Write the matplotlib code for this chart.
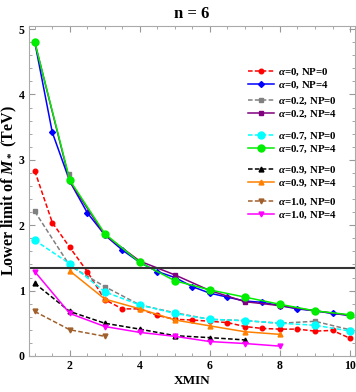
import matplotlib
matplotlib.use("Agg")
import matplotlib.pyplot as plt
from matplotlib.legend import Legend
from matplotlib.ticker import MultipleLocator

plt.rcParams['font.family'] = ['Liberation Serif', 'DejaVu Serif']
plt.rcParams['mathtext.fontset'] = 'custom'
plt.rcParams['mathtext.it'] = 'Liberation Serif:italic:bold'
plt.rcParams['mathtext.rm'] = 'Liberation Serif:bold'

# ---- data ----
x_half = [1, 1.5, 2, 2.5, 3, 3.5, 4, 4.5, 5, 5.5, 6, 6.5, 7, 7.5, 8, 8.5, 9, 9.5, 10]
x_int = [1, 2, 3, 4, 5, 6, 7, 8, 9, 10]

a0_np0 = [2.83, 2.04, 1.66, 1.29, 0.86, 0.72, 0.72, 0.62, 0.56, 0.55, 0.53, 0.51,
          0.45, 0.42, 0.41, 0.41, 0.38, 0.39, 0.27]
a0_np4 = [4.80, 3.42, 2.67, 2.19, 1.85, 1.62, 1.43, 1.29, 1.20, 1.06, 0.96, 0.90,
          0.84, 0.82, 0.77, 0.72, 0.69, 0.65, 0.62]
a02_np0 = [2.21, 1.38, 1.06, 0.78, 0.66, 0.56, 0.54, 0.50, 0.53, 0.40]
a02_np0_extra_x = [1.97]
a02_np0_extra_y = [2.78]
a02_np4 = [4.80, 2.67, 1.85, 1.45, 1.24, 1.00, 0.83, 0.77, 0.69, 0.62]
a07_np0 = [1.77, 1.41, 0.98, 0.78, 0.65, 0.56, 0.54, 0.50, 0.47, 0.38]
a07_np4 = [4.80, 2.69, 1.87, 1.43, 1.15, 1.01, 0.90, 0.79, 0.69, 0.63]
x_a09_np0 = [1, 2, 3, 4, 5, 6, 7]
a09_np0 = [1.11, 0.68, 0.50, 0.41, 0.31, 0.28, 0.245]
x_a09_np4 = [2, 3, 4, 5, 6, 7, 8]
a09_np4 = [1.30, 0.87, 0.72, 0.55, 0.46, 0.37, 0.33]
x_a10_np0 = [1, 2, 3]
a10_np0 = [0.68, 0.40, 0.30]
x_a10_np4 = [1, 2, 3, 4, 5, 6, 7, 8]
a10_np4 = [1.29, 0.65, 0.45, 0.36, 0.30, 0.22, 0.19, 0.15]
limit = 1.34

labels = [r'$\alpha$=0, NP=0', r'$\alpha$=0, NP=4',
          r'$\alpha$=0.2, NP=0', r'$\alpha$=0.2, NP=4',
          r'$\alpha$=0.7, NP=0', r'$\alpha$=0.7, NP=4',
          r'$\alpha$=0.9, NP=0', r'$\alpha$=0.9, NP=4',
          r'$\alpha$=1.0, NP=0', r'$\alpha$=1.0, NP=4']

fig = plt.figure(figsize=(3.56, 3.92), dpi=100)
ax = fig.add_axes([0.081, 0.092, 0.916, 0.842])

series = [
    (x_half, a0_np0, '#ff0000', '--', 'o', 3.3),
    (x_half, a0_np4, '#0000ff', '-', 'D', 3.0),
    (x_int, a02_np0, '#808080', '--', 's', 3.0),
    (x_int, a02_np4, '#800080', '-', 's', 3.0),
    (x_int, a07_np0, '#00ffff', '--', 'o', 5),
    (x_int, a07_np4, '#00ee00', '-', 'o', 5),
    (x_a09_np0, a09_np0, '#000000', '--', '^', 3.5),
    (x_a09_np4, a09_np4, '#ff8000', '-', '^', 3.5),
    (x_a10_np0, a10_np0, '#a0602d', '--', 'v', 3.5),
    (x_a10_np4, a10_np4, '#ff00ff', '-', 'v', 3.5),
]
handles = []
for (xs, ys, c, ls, m, ms), lab in zip(series, labels):
    h, = ax.plot(xs, ys, color=c, ls=ls, marker=m, ms=ms, lw=1.1, label=lab)
    if ls == '--':
        h.set_dashes((3, 1.5))
    handles.append(h)
    if lab == labels[2]:
        ax.plot(a02_np0_extra_x, a02_np0_extra_y, color=c, marker=m, ms=ms, ls='none')

ax.axhline(limit, color='#333333', lw=1.5)

ax.set_xlim(0.83, 10.14)
ax.set_ylim(0, 5.05)
ax.xaxis.set_major_locator(MultipleLocator(2))
ax.xaxis.set_minor_locator(MultipleLocator(0.5))
ax.yaxis.set_major_locator(MultipleLocator(1))
ax.yaxis.set_minor_locator(MultipleLocator(0.2))
ax.tick_params(which='both', direction='in', top=True, right=True, color='#999999',
               labelsize=8.5, pad=3)
ax.tick_params(which='major', length=4)
ax.tick_params(which='minor', length=2)
for lbl in ax.get_xticklabels() + ax.get_yticklabels():
    lbl.set_fontweight('bold')
for s in ax.spines.values():
    s.set_color('#aaaaaa')
    s.set_linewidth(0.8)

ax.set_xlabel('XMIN', fontsize=9.5, fontweight='bold', labelpad=2)
ax.set_ylabel(r'Lower limit of $M_*$ (TeV)', fontsize=11.5, fontweight='bold', labelpad=0)
ax.set_title('n = 6', fontsize=12, fontweight='bold', pad=6)

# legends in pairs
tops = [0.877, 0.790, 0.682, 0.579, 0.484]
for i, top in enumerate(tops):
    leg = Legend(ax, handles[2*i:2*i+2], labels[2*i:2*i+2], loc='upper left',
                 bbox_to_anchor=(0.672, top), frameon=False, fontsize=7.8,
                 handlelength=2.4, handletextpad=0.35, labelspacing=0.15,
                 borderpad=0, borderaxespad=0)
    for t in leg.get_texts():
        t.set_fontweight('bold')
    ax.add_artist(leg)

fig.savefig('out.png', dpi=100)
